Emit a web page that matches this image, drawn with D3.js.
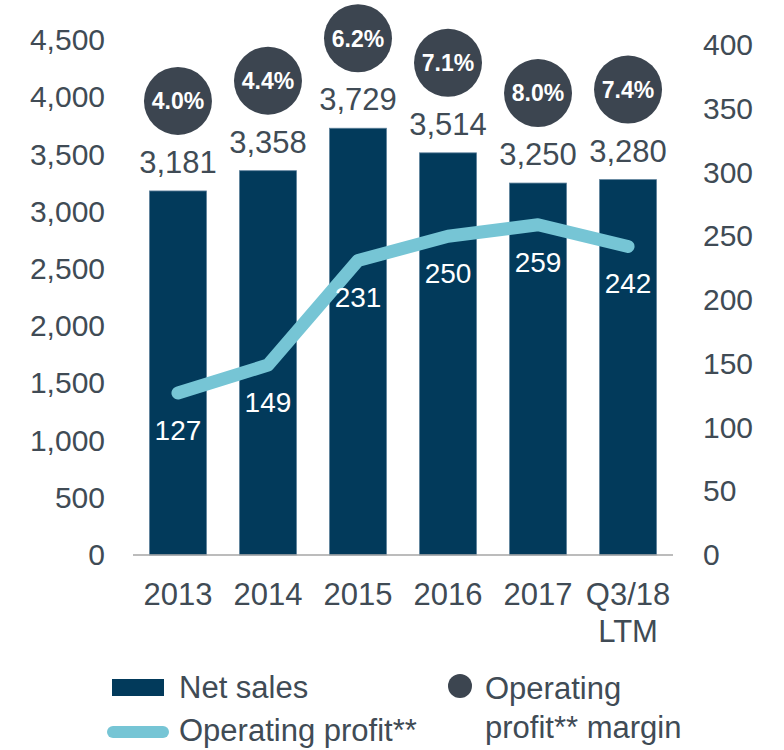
<!DOCTYPE html>
<html>
<head>
<meta charset="utf-8">
<script src="https://cdn.jsdelivr.net/npm/d3@7"></script>
<style>
  body { margin: 0; background: #fff; }
  text { font-family: "Liberation Sans", Arial, sans-serif; }
</style>
</head>
<body>
<div class="chart"></div>
<script>
// chart data
const categories = ["2013", "2014", "2015", "2016", "2017", "Q3/18 LTM"];
const netSales = [3181, 3358, 3729, 3514, 3250, 3280];
const operatingProfit = [127, 149, 231, 250, 259, 242];
const margins = ["4.0%", "4.4%", "6.2%", "7.1%", "8.0%", "7.4%"];
const leftTicks = [0, 500, 1000, 1500, 2000, 2500, 3000, 3500, 4000, 4500];
const rightTicks = [0, 50, 100, 150, 200, 250, 300, 350, 400];

/* colours */
const barColor = "#023a5b";
const lineColor = "#76c5d5";
const bubbleColor = "#3c4550";
const textColor = "#404b55";

/* container */
const width = 784, height = 750;
const svg = d3.select(".chart").append("svg")
  .attr("width", width)
  .attr("height", height);

/* scales */
const xScale = d3.scaleBand()
  .domain(categories)
  .range([133, 673])
  .paddingInner(0.367)
  .paddingOuter(0.183);

const yLeft = d3.scaleLinear()
  .domain([0, 4500])
  .range([555, 40]);

const yRight = d3.scaleLinear()
  .domain([0, 400])
  .range([555, 45]);

/* left axis */
const leftAxis = svg.append("g")
  .attr("transform", "translate(133,0)")
  .call(d3.axisLeft(yLeft).tickValues(leftTicks).tickSize(0).tickPadding(28)
    .tickFormat(d3.format(",")));
leftAxis.select(".domain").remove();
leftAxis.selectAll("text")
  .attr("font-size", 30)
  .attr("fill", textColor)
  .attr("font-family", "Liberation Sans, Arial, sans-serif");

/* right axis */
const rightAxis = svg.append("g")
  .attr("transform", "translate(673,0)")
  .call(d3.axisRight(yRight).tickValues(rightTicks).tickSize(0).tickPadding(30));
rightAxis.select(".domain").remove();
rightAxis.selectAll("text")
  .attr("font-size", 30)
  .attr("fill", textColor)
  .attr("font-family", "Liberation Sans, Arial, sans-serif");

/* bars */
svg.append("g").selectAll("rect")
  .data(netSales)
  .join("rect")
    .attr("x", (d, i) => xScale(categories[i]))
    .attr("y", d => yLeft(d))
    .attr("width", xScale.bandwidth())
    .attr("height", d => yLeft(0) - yLeft(d))
    .attr("fill", barColor)
    .attr("stroke", "#5d819b")
    .attr("stroke-width", 0.8);

/* baseline */
svg.append("line")
  .attr("x1", 133).attr("x2", 673)
  .attr("y1", yLeft(0)).attr("y2", yLeft(0))
  .attr("stroke", "#a6a6a6")
  .attr("stroke-width", 1.5);

/* x axis labels */
const xAxis = svg.append("g")
  .attr("transform", `translate(0,${yLeft(0)})`)
  .call(d3.axisBottom(xScale).tickSize(0).tickPadding(0).tickFormat(""));
xAxis.select(".domain").remove();
xAxis.selectAll(".tick").append("text")
  .attr("text-anchor", "middle")
  .attr("font-size", 31)
  .attr("fill", textColor)
  .selectAll("tspan")
  .data(d => d.split(" "))
  .join("tspan")
    .attr("x", 0)
    .attr("y", (d, i) => 50 + i * 37)
    .text(d => d);

/* bar value labels */
svg.append("g").selectAll("text")
  .data(netSales)
  .join("text")
    .attr("x", (d, i) => xScale(categories[i]) + xScale.bandwidth() / 2)
    .attr("y", d => yLeft(d) - 18)
    .attr("text-anchor", "middle")
    .attr("font-size", 31)
    .attr("fill", textColor)
    .text(d => d3.format(",")(d));

/* operating profit line */
const line = d3.line()
  .x((d, i) => xScale(categories[i]) + xScale.bandwidth() / 2)
  .y(d => yRight(d));

svg.append("path")
  .datum(operatingProfit)
  .attr("d", line)
  .attr("fill", "none")
  .attr("stroke", lineColor)
  .attr("stroke-width", 13)
  .attr("stroke-linecap", "round")
  .attr("stroke-linejoin", "round");

svg.append("g").selectAll("text")
  .data(operatingProfit)
  .join("text")
    .attr("x", (d, i) => xScale(categories[i]) + xScale.bandwidth() / 2)
    .attr("y", d => yRight(d) + 47)
    .attr("text-anchor", "middle")
    .attr("font-size", 28)
    .attr("fill", "#fff")
    .text(d => d);

/* margin bubbles */
const bubbles = svg.append("g").selectAll("g")
  .data(margins)
  .join("g")
    .attr("transform", (d, i) =>
      `translate(${xScale(categories[i]) + xScale.bandwidth() / 2},${yLeft(netSales[i]) - 90})`);

bubbles.append("circle")
  .attr("r", 34)
  .attr("fill", bubbleColor);

bubbles.append("text")
  .attr("text-anchor", "middle")
  .attr("dy", "0.36em")
  .attr("font-size", 23)
  .attr("font-weight", "bold")
  .attr("fill", "#fff")
  .text(d => d);

/* legend */
const legend = svg.append("g").attr("font-size", 31).attr("fill", textColor);

legend.append("rect")
  .attr("x", 112).attr("y", 679)
  .attr("width", 52).attr("height", 17)
  .attr("fill", barColor);
legend.append("text")
  .attr("x", 179).attr("y", 698)
  .text("Net sales");

legend.append("line")
  .attr("x1", 113).attr("x2", 163)
  .attr("y1", 732).attr("y2", 732)
  .attr("stroke", lineColor)
  .attr("stroke-width", 12)
  .attr("stroke-linecap", "round");
legend.append("text")
  .attr("x", 179).attr("y", 741)
  .text("Operating profit**");

legend.append("circle")
  .attr("cx", 460).attr("cy", 686)
  .attr("r", 12)
  .attr("fill", bubbleColor);
legend.append("text")
  .attr("x", 485).attr("y", 699)
  .text("Operating");
legend.append("text")
  .attr("x", 485).attr("y", 738)
  .text("profit** margin");
</script>
</body>
</html>
